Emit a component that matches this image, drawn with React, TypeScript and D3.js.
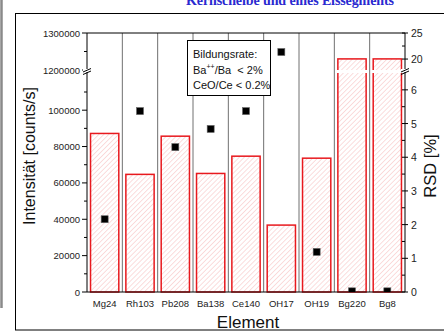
import React from 'react';
import * as d3 from 'd3';

// Element categories and values
const categories = ['Mg24', 'Rh103', 'Pb208', 'Ba138', 'Ce140', 'OH17', 'OH19', 'Bg220', 'Bg8'];
const intensity = [87200, 64700, 85700, 65200, 74700, 36800, 73600, 1230000, 1230000];
const rsd = [2.16, 5.37, 4.3, 4.84, 5.37, 21.35, 1.19, 0.02, 0.02];

const leftLowTicks = [0, 20000, 40000, 60000, 80000, 100000];
const leftLowMinor = [10000, 30000, 50000, 70000, 90000, 110000];
const leftHighTicks = [1200000, 1300000];
const leftHighMinor = [1250000];
const rightLowTicks = [0, 1, 2, 3, 4, 5, 6];
const rightLowMinor = [0.5, 1.5, 2.5, 3.5, 4.5, 5.5];
const rightHighTicks = [20, 25];
const rightHighMinor = [22.5];

const legendLines = ['Bildungsrate:', 'Ba++/Ba  < 2%', 'CeO/Ce < 0.2%'];

const W = 444;
const H = 334;
const left = 87;
const right = 405;
const top = 33;
const bottom = 292;
const breakLow = 72;
const breakHigh = 70;
const font = "'Liberation Sans', Arial, sans-serif";

const App = () => {
  const x = d3.scaleBand().domain(categories).range([left, right]).paddingInner(0.2).paddingOuter(0.1);
  const step = x.step();

  const yLow = d3.scaleLinear().domain([0, 121000]).range([bottom, breakLow]);
  const yHigh = d3.scaleLinear().domain([1200000, 1300000]).range([breakHigh, top]);
  const yL = (v: number) => (v <= 121000 ? yLow(v) : yHigh(v));

  const rLow = d3.scaleLinear().domain([0, 6.53]).range([bottom, breakLow]);
  const rHigh = d3.scaleLinear().domain([17.9, 25]).range([breakHigh, top]);
  const yR = (v: number) => (v <= 6.53 ? rLow(v) : rHigh(v));

  const leftMajor = [...leftLowTicks.map(yLow), ...leftHighTicks.map(yHigh)];
  const leftMajorLabels = [...leftLowTicks, ...leftHighTicks];
  const leftMinor = [...leftLowMinor.map(yLow), ...leftHighMinor.map(yHigh)];
  const rightMajor = [...rightLowTicks.map(rLow), ...rightHighTicks.map(rHigh)];
  const rightMajorLabels = [...rightLowTicks, ...rightHighTicks];
  const rightMinor = [...rightLowMinor.map(rLow), ...rightHighMinor.map(rHigh)];

  const breakMark = (cx: number, cy: number) => (
    <g>
      <rect x={cx - 4} y={cy - 2} width={8} height={3} fill="white" />
      <line x1={cx - 4} y1={cy + 1} x2={cx + 4} y2={cy - 2.5} stroke="black" />
      <line x1={cx - 4} y1={cy + 3.5} x2={cx + 4} y2={cy} stroke="black" />
    </g>
  );

  return (
    <svg width={W} height={H} style={{ position: 'absolute', left: 0, top: 0 }} fontFamily={font}>
      <defs>
        <pattern id="hatch" patternUnits="userSpaceOnUse" width={3.5} height={3.5} patternTransform="rotate(45)">
          <line x1={0} y1={0} x2={0} y2={3.5} stroke="#f5b3b3" strokeWidth={0.9} />
        </pattern>
        <clipPath id="plot">
          <rect x={left} y={top} width={right - left} height={bottom - top} />
        </clipPath>
      </defs>
      <rect width={W} height={H} fill="white" />
      <line x1={1.5} y1={0} x2={1.5} y2={308} stroke="#8a8a8a" strokeWidth={2.5} />
      <text x={290} y={5} textAnchor="middle" fill="#2a2ad0" fontFamily="'Liberation Serif', serif" fontWeight="bold" fontSize={14} textLength={208}>
        Kernscheibe und eines Eissegments
      </text>
      <rect x={15.5} y={13.5} width={440} height={316.5} fill="none" stroke="black" />

      {/* category separators */}
      {categories.slice(1).map((c) => (
        <line key={c} x1={x(c)! - (step - x.bandwidth()) / 2} x2={x(c)! - (step - x.bandwidth()) / 2} y1={top} y2={bottom} stroke="#707070" />
      ))}

      {/* bars */}
      {categories.map((c, i) => (
        <rect key={c} x={x(c)} y={yL(intensity[i])} width={x.bandwidth()} height={bottom - yL(intensity[i])}
          fill="url(#hatch)" stroke="#e8191e" strokeWidth={1.5} />
      ))}
      {categories.map((c, i) => intensity[i] > 121000 ? (
        <rect key={c} x={x(c)! - 1.5} y={breakHigh} width={x.bandwidth() + 3} height={breakLow - breakHigh + 1} fill="white" />
      ) : null)}

      {/* legend box */}
      <rect x={187.5} y={40.5} width={83} height={55} fill="white" stroke="black" />
      <text x={193} y={58} fontSize={11} fill="#111">{legendLines[0]}</text>
      <text x={193} y={74} fontSize={11} fill="#111">
        Ba<tspan fontSize={7} dy={-5}>++</tspan><tspan dy={5}>/Ba  {'\u00a0'}&lt; 2%</tspan>
      </text>
      <text x={193} y={89} fontSize={11} fill="#111">{legendLines[2]}</text>

      {/* RSD points */}
      <g clipPath="url(#plot)">
        {categories.map((c, i) => (
          <rect key={c} x={x(c)! + x.bandwidth() / 2 - 3.5} y={yR(rsd[i]) - 3.5} width={7} height={7} fill="black" stroke="#666" strokeWidth={0.6} />
        ))}
      </g>

      {/* frame / axes */}
      <line x1={left} x2={right} y1={top} y2={top} stroke="black" />
      <line x1={left} x2={right} y1={bottom} y2={bottom} stroke="black" />
      <line x1={left} x2={left} y1={top} y2={bottom} stroke="black" />
      <line x1={right} x2={right} y1={top} y2={bottom} stroke="black" />

      {leftMajor.map((y, i) => (
        <g key={i}>
          <line x1={left - 5} x2={left} y1={y} y2={y} stroke="black" />
          <text x={left - 7} y={y + 3.5} textAnchor="end" fontSize={9.5} fill="#222">{leftMajorLabels[i]}</text>
        </g>
      ))}
      {leftMinor.map((y, i) => (
        <line key={i} x1={left - 3} x2={left} y1={y} y2={y} stroke="black" />
      ))}
      {rightMajor.map((y, i) => (
        <g key={i}>
          <line x1={right - 3} x2={right + 3} y1={y} y2={y} stroke="black" />
          <text x={right + 6} y={y + 4} fontSize={10.5} fill="#222">{rightMajorLabels[i]}</text>
        </g>
      ))}
      {rightMinor.map((y, i) => (
        <line key={i} x1={right - 3} x2={right} y1={y} y2={y} stroke="black" />
      ))}
      {breakMark(left, 71)}
      {breakMark(right, 71)}

      {categories.map((c) => (
        <text key={c} x={x(c)! + x.bandwidth() / 2} y={307} textAnchor="middle" fontSize={9.5} fill="#222">{c}</text>
      ))}

      <text x={248} y={328} textAnchor="middle" fontSize={17} fill="#111">Element</text>
      <text transform={`translate(35,156) rotate(-90)`} textAnchor="middle" fontSize={16} fill="#111">Intensität [counts/s]</text>
      <text transform={`translate(436,166) rotate(-90)`} textAnchor="middle" fontSize={16.5} fill="#111">RSD [%]</text>
    </svg>
  );
};

export default App;
